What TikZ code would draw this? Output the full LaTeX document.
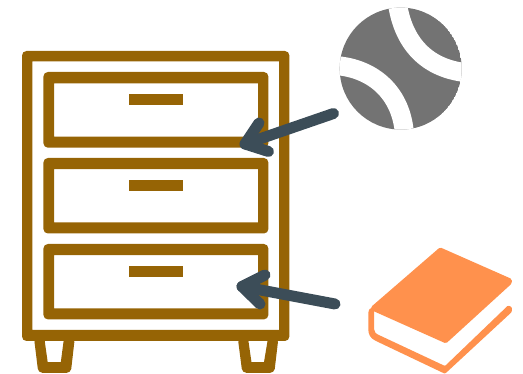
\documentclass[tikz,border=0pt]{standalone}
\definecolor{brownc}{RGB}{150,100,5}
\definecolor{slatec}{RGB}{60,77,88}
\definecolor{grayc}{RGB}{115,115,115}
\definecolor{orangec}{RGB}{255,145,77}
\tikzset{
  furn/.style={fill=brownc,draw=none,even odd rule},
  pull/.style={fill=brownc,draw=none},
  seam/.style={draw=white,line width=19pt},
  pointer/.style={draw=slatec,line width=11pt,line cap=round,line join=round},
}
\newcommand{\frameshape}[8]{%
  \fill[furn] [rounded corners=4.5pt] (#1,#2) rectangle (#3,#4) [sharp corners] (#5,#6) rectangle (#7,#8);}
\begin{document}
\begin{tikzpicture}[x=1pt,y=-1pt]
\useasboundingbox (0,0) rectangle (523,374);
% legs
\fill[furn,rounded corners=4pt] (34,338) -- (38.3,372.8) -- (70.8,372.8) -- (74.8,338) -- cycle
  [sharp corners] (44.3,338) -- (47.7,362.2) -- (60.8,362.2) -- (64,338) -- cycle;
\fill[furn,rounded corners=4pt] (237.8,338) -- (242.3,372.8) -- (274.3,372.8) -- (278.4,338) -- cycle
  [sharp corners] (248,338) -- (251.5,362.2) -- (264,362.2) -- (268,338) -- cycle;
% body and drawers
\frameshape{22}{51}{289.4}{341}{32.4}{61.5}{279}{330}
\frameshape{43.4}{72}{268.4}{147.7}{54}{83.3}{258}{136.7}
\frameshape{43.4}{158}{268.4}{233.5}{54}{169.2}{258}{222.5}
\frameshape{43.4}{244}{268.4}{319.4}{54}{255.2}{258}{308.4}
\fill[pull] (129,94) rectangle (183,104.7);
\fill[pull] (129,180) rectangle (183,190.7);
\fill[pull] (129,266) rectangle (183,276.7);
% ball
\coordinate (ballc) at (400.7,68.6);
\begin{scope}
\clip (ballc) circle (61);
\fill[grayc] (ballc) circle (61);
\draw[seam] (397,0) .. controls (402,43) and (427,70) .. (470,73);
\draw[seam] (335,65.5) .. controls (373,68) and (402,93) .. (404.5,135);
\end{scope}
% book
\fill[orangec,rounded corners=1.5pt] (440,247.3) -- (511.8,279) -- (511.8,283.5) -- (446,343.5) -- (371,310) -- (371,307) -- cycle;
\fill[orangec,rounded corners=1pt] (368.3,312) -- (368.3,328) .. controls (368.3,334) and (370,338) .. (376,341) -- (445,373.8) -- (511.8,312) -- (511.8,307) -- (508,305.5) -- (445,366) -- (381,336) .. controls (376,334) and (374,332) .. (374,328) -- (374,310) -- (370,308) -- cycle;
% arrows
\coordinate (a1s) at (333.5,113.5);
\coordinate (a1t) at (245,144);
\coordinate (a1u) at (259,123);
\coordinate (a1d) at (268.5,151.5);
\coordinate (a2s) at (335,304);
\coordinate (a2t) at (242,286.5);
\coordinate (a2u) at (265,275);
\coordinate (a2d) at (260,304);
\draw[pointer] (a1s) -- (a1t);
\draw[pointer] (a1u) -- (a1t) -- (a1d);
\draw[pointer] (a2s) -- (a2t);
\draw[pointer] (a2u) -- (a2t) -- (a2d);
\end{tikzpicture}
\end{document}
